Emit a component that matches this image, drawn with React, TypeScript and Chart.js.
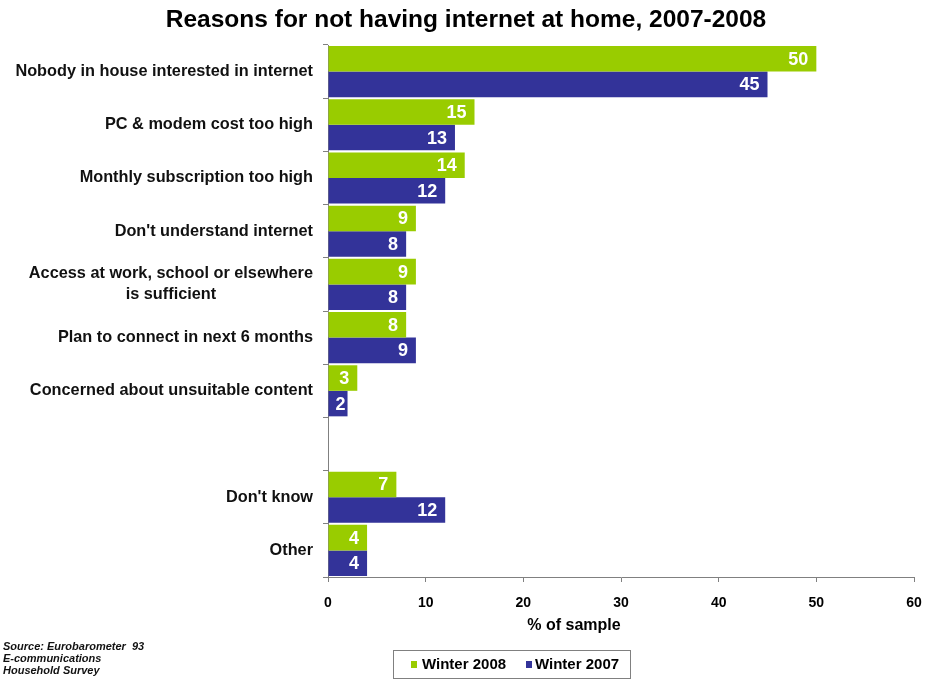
import React, { useEffect, useRef } from "react";
import { Chart, registerables } from "chart.js";

Chart.register(...registerables);

const titleText = "Reasons for not having internet at home, 2007-2008";
const categories = [
  "Nobody in house interested in internet",
  "PC & modem cost too high",
  "Monthly subscription too high",
  "Don't understand internet",
  "Access at work, school or elsewhere\nis sufficient",
  "Plan to connect in next 6 months",
  "Concerned about unsuitable content",
  "",
  "Don't know",
  "Other",
];
const winter2008 = [50, 15, 14, 9, 9, 8, 3, null, 7, 4];
const winter2007 = [45, 13, 12, 8, 8, 9, 2, null, 12, 4];
const seriesNames = ["Winter 2008", "Winter 2007"];
const xTicks = [0, 10, 20, 30, 40, 50, 60];
const xTitle = "% of sample";
const sourceLines = ["Source: Eurobarometer  93", "E-communications", "Household Survey"];

const GREEN = "#99CC00";
const BLUE = "#333399";
const FONT = "Arial, 'Liberation Sans', sans-serif";

const drawPlugin = {
  id: "customDraw",
  afterDraw(chart: any) {
    const ctx = chart.ctx;
    const y = chart.scales.y;
    ctx.save();
    // title
    ctx.fillStyle = "#000";
    ctx.font = `bold 24.5px ${FONT}`;
    ctx.textAlign = "center";
    ctx.textBaseline = "middle";
    ctx.fillText(titleText, 466, 20);

    // x axis title
    ctx.font = `bold 16px ${FONT}`;
    ctx.fillText(xTitle, 574, 626);

    // y labels
    ctx.font = `bold 16.3px ${FONT}`;
    ctx.fillStyle = "#111";
    categories.forEach((lab, i) => {
      if (!lab) return;
      const lines = lab.split("\n");
      const cy = y.getPixelForValue(i);
      const widths = lines.map((l) => ctx.measureText(l).width);
      const maxW = Math.max(...widths);
      const right = 313;
      const cx = right - maxW / 2;
      const lh = 21;
      const startY = cy - ((lines.length - 1) * lh) / 2;
      ctx.textAlign = "center";
      lines.forEach((l, k) => ctx.fillText(l, cx, startY + k * lh));
    });

    // data labels
    ctx.font = `bold 18px ${FONT}`;
    ctx.fillStyle = "#fff";
    ctx.textAlign = "right";
    chart.data.datasets.forEach((ds: any, di: number) => {
      const meta = chart.getDatasetMeta(di);
      meta.data.forEach((bar: any, i: number) => {
        const v = ds.data[i];
        if (v == null) return;
        const t = String(v);
        const w = ctx.measureText(t).width;
        const xr = Math.max(bar.x - 8, bar.base + w + 7);
        ctx.fillText(t, xr, bar.y + 1);
      });
    });

    // legend box
    ctx.strokeStyle = "#808080";
    ctx.lineWidth = 1;
    ctx.strokeRect(393.5, 650.5, 237, 28);
    ctx.font = `bold 15px ${FONT}`;
    ctx.fillStyle = "#000";
    ctx.textAlign = "left";
    const items = [
      { x: 411, tx: 422, c: GREEN, t: seriesNames[0] },
      { x: 526, tx: 535, c: BLUE, t: seriesNames[1] },
    ];
    items.forEach((it) => {
      ctx.fillStyle = it.c;
      ctx.fillRect(it.x, 661, 6, 7);
      ctx.fillStyle = "#000";
      ctx.fillText(it.t, it.tx, 665);
    });

    // source
    ctx.font = `italic bold 11px ${FONT}`;
    ctx.fillStyle = "#111";
    ctx.textAlign = "left";
    sourceLines.forEach((s, k) => ctx.fillText(s, 3, 647 + k * 12));
    ctx.restore();
  },
};

export default function App() {
  const ref = useRef<HTMLCanvasElement>(null);
  useEffect(() => {
    if (!ref.current) return;
    const chart = new Chart(ref.current, {
      type: "bar",
      data: {
        labels: categories,
        datasets: [
          { label: seriesNames[0], data: winter2008, backgroundColor: GREEN, categoryPercentage: 0.96, barPercentage: 1.0 },
          { label: seriesNames[1], data: winter2007, backgroundColor: BLUE, categoryPercentage: 0.96, barPercentage: 1.0 },
        ],
      },
      options: {
        indexAxis: "y",
        animation: false,
        responsive: false,
        layout: { padding: { left: 0, right: 12, top: 45, bottom: 43 } },
        plugins: { legend: { display: false }, title: { display: false }, tooltip: { enabled: false } },
        scales: {
          y: {
            type: "category",
            ticks: { display: false },
            grid: { drawOnChartArea: false, offset: true, tickLength: 5, color: "#808080" },
            border: { color: "#808080", width: 1 },
            afterFit: (s: any) => { s.width = 328; s.paddingTop = 0; s.paddingBottom = 0; },
          },
          x: {
            type: "linear",
            min: 0,
            max: 60,
            afterBuildTicks: (s: any) => { s.ticks = xTicks.map((v) => ({ value: v })); },
            ticks: { color: "#000", font: { family: FONT, size: 14, weight: "bold" }, padding: 13, maxRotation: 0 },
            grid: { drawOnChartArea: false, tickLength: 5, color: "#808080" },
            border: { color: "#808080", width: 1 },
            title: { display: false },
            afterFit: (s: any) => { s.height = 60; s.paddingLeft = 0; s.paddingRight = 0; },
          },
        },
      },
      plugins: [drawPlugin],
    });
    return () => chart.destroy();
  }, []);
  return (
    <div style={{ position: "fixed", left: 0, top: 0, width: 926, height: 680, background: "#fff" }}>
      <canvas ref={ref} width={926} height={680} style={{ width: 926, height: 680 }} />
    </div>
  );
}
